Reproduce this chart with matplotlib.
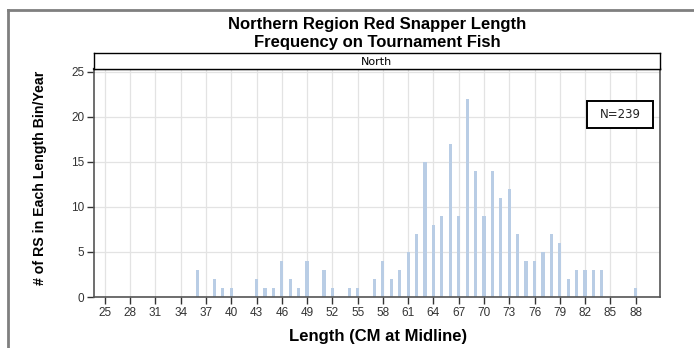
import matplotlib
matplotlib.use("Agg")
import matplotlib.pyplot as plt
from matplotlib.lines import Line2D
from matplotlib.patches import Rectangle

plt.rcParams['font.family'] = ['Liberation Sans', 'DejaVu Sans']

lengths = [36, 38, 39, 40, 43, 44, 45, 46, 47, 48, 49, 51, 52, 54, 55, 57, 58,
           59, 60, 61, 62, 63, 64, 65, 66, 67, 68, 69, 70, 71, 72, 73, 74, 75,
           76, 77, 78, 79, 80, 81, 82, 83, 84, 88]
counts = [3, 2, 1, 1, 2, 1, 1, 4, 2, 1, 4, 3, 1, 1, 1, 2, 4,
          2, 3, 5, 7, 15, 8, 9, 17, 9, 22, 14, 9, 14, 11, 12, 7, 4,
          4, 5, 7, 6, 2, 3, 3, 3, 3, 1]
xticks = list(range(25, 89, 3))
yticks = [0, 5, 10, 15, 20, 25]
title_lines = ["Northern Region Red Snapper Length", "Frequency on Tournament Fish"]
panel = "North"
n_label = "N=239"
xlabel = "Length (CM at Midline)"
ylabel = "# of RS in Each Length Bin/Year"

W, H = 694, 348
fig = plt.figure(figsize=(W / 100, H / 100), dpi=100)
fig.patch.set_facecolor('white')

def fx(x):
    return x / W

def fy(y):
    return 1 - y / H

def ax_rect(x0, y0, x1, y1):
    return [x0 / W, 1 - y1 / H, (x1 - x0) / W, (y1 - y0) / H]

# outer frame
fig.add_artist(Line2D([fx(8), fx(8)], [0, fy(10)], transform=fig.transFigure,
                      color='#7f7f7f', lw=2))
fig.add_artist(Line2D([fx(8), 1], [fy(10), fy(10)], transform=fig.transFigure,
                      color='#7f7f7f', lw=2))

ax = fig.add_axes(ax_rect(94, 69, 660, 297))
ax.bar(lengths, counts, width=0.38, color='#b9cde5', zorder=2)
ax.set_xlim(23.7, 90.9)
ax.set_ylim(0, 25.3)
ax.set_xticks(xticks)
ax.set_yticks(yticks)
ax.grid(True, color='#e3e3e3', lw=0.9, zorder=0)
ax.set_axisbelow(True)
for s in ax.spines.values():
    s.set_color('#555555')
    s.set_linewidth(1.2)
ax.spines['top'].set_color('#222222')
ax.spines['top'].set_linewidth(1.6)
ax.tick_params(axis='both', direction='out', length=5, width=1, color='#333333',
               labelsize=8.5, labelcolor='#333333', pad=2)

# N box
fig.add_artist(Rectangle((fx(587), fy(128)), (653 - 587) / W, (128 - 101) / H,
                         transform=fig.transFigure, fc='white', ec='black', lw=1.4,
                         zorder=5))
fig.text(fx(620), fy(114.5), n_label, ha='center', va='center', fontsize=8.5,
         family='DejaVu Sans', color='#222222', zorder=6)

# strip header
sax = fig.add_axes(ax_rect(94, 53, 660, 69))
sax.set_xticks([])
sax.set_yticks([])
for s in sax.spines.values():
    s.set_color('black')
    s.set_linewidth(1.0)
sax.text(0.5, 0.45, panel, ha='center', va='center', fontsize=8,
         family='DejaVu Sans', transform=sax.transAxes)

# titles and axis labels
fig.text(fx(377), fy(29.5), title_lines[0], ha='center', va='baseline',
         fontsize=12, fontweight='bold')
fig.text(fx(377), fy(47), title_lines[1], ha='center', va='baseline',
         fontsize=12, fontweight='bold')
fig.text(fx(378), fy(341.5), xlabel, ha='center', va='baseline',
         fontsize=12, fontweight='bold')
fig.text(fx(40), fy(178), ylabel, ha='center', va='center', rotation=90,
         fontsize=10.2, fontweight='bold')

fig.savefig("out.png", dpi=100)
